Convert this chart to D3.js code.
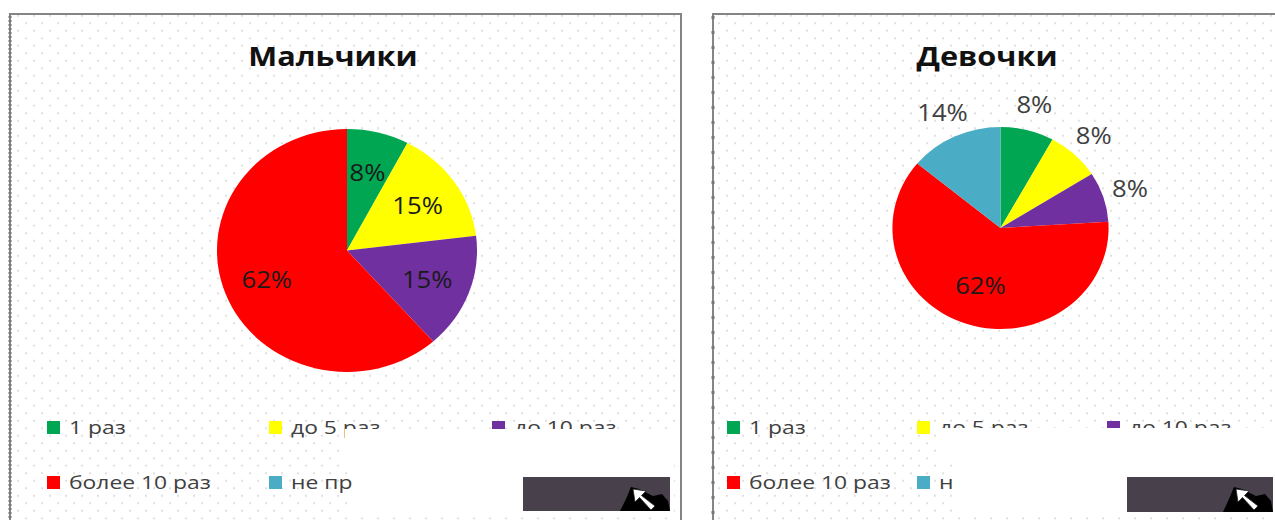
<!DOCTYPE html>
<html>
<head>
<meta charset="utf-8">
<script src="https://cdn.jsdelivr.net/npm/d3@7"></script>
<style>
  body { margin: 0; background: #fff; }
  svg { display: block; }
  text { font-family: "Open Sans", sans-serif; }
</style>
</head>
<body>
<div id="chart"></div>
<script>
// two pies: boys / girls
const width = 1275, height = 520;

const categories = ["1 раз", "до 5 раз", "до 10 раз", "более 10 раз", "не пробовали"];
const colors = ["#00a651", "#ffff00", "#7030a0", "#ff0000", "#4bacc6"];
const titles = ["Мальчики", "Девочки"];
const boysValues = [1, 2, 2, 8, 0];
const girlsValues = [8, 8, 8, 62, 14];

const svg = d3.select("#chart")
    .append("svg")
    .attr("width", width)
    .attr("height", height);

const defs = svg.append("defs");

// layout of each panel (not data)
const panels = [
  { title: titles[0], values: boysValues, x: 10, w: 671, cx: 347, cy: 250.5, r: 121.5, titleX: 333,
    dotX: 6, legendX: [47, 269, 492], fit: "inside",
    cut: [[345, 429, 330, 31], [352, 460, 322, 52]], button: [523, 477, 147, 34] },
  { title: titles[1], values: girlsValues, x: 713, w: 620, cx: 1000.5, cy: 228, r: 101, titleX: 987,
    dotX: 731, legendX: [727, 917, 1107], fit: "bestfit",
    cut: [[936, 428, 340, 32], [952, 460, 330, 52]], button: [1127, 477, 146, 35] }
];

const sx = 1.07;   // pies are a bit stretched sideways
const tx = 1.18;   // titles and legend even more
const legendRows = [421, 476];

panels.forEach((p, k) => {
  // dotted background
  const pat = defs.append("pattern")
      .attr("id", "dots" + k)
      .attr("patternUnits", "userSpaceOnUse")
      .attr("x", p.dotX).attr("y", 19.5)
      .attr("width", 16).attr("height", 15);
  pat.append("circle").attr("cx", 4).attr("cy", 3.75).attr("r", 0.8).attr("fill", "#b8b8b8");
  pat.append("circle").attr("cx", 12).attr("cy", 11.25).attr("r", 0.8).attr("fill", "#b8b8b8");

  const panel = svg.append("g");
  panel.append("rect")
      .attr("x", p.x).attr("y", 14)
      .attr("width", p.w).attr("height", 600)
      .attr("fill", `url(#dots${k})`)
      .attr("stroke", "#858585")
      .attr("stroke-width", 2);
  // handle marks on the left edge
  panel.append("line")
      .attr("x1", p.x).attr("x2", p.x)
      .attr("y1", 16).attr("y2", height)
      .attr("stroke", "#777")
      .attr("stroke-width", 3)
      .attr("stroke-dasharray", k == 0 ? "2,2" : "3,12");

  panel.append("text")
      .attr("transform", `translate(${p.titleX},66) scale(${tx},1)`)
      .attr("text-anchor", "middle")
      .attr("font-size", 26)
      .attr("font-weight", "bold")
      .attr("fill", "#111")
      .text(p.title);

  const total = d3.sum(p.values);
  const pie = d3.pie().sort(null).value(d => d);
  const arcs = pie(p.values);
  const arc = d3.arc().innerRadius(0).outerRadius(p.r);

  const g = panel.append("g")
      .attr("transform", `translate(${p.cx},${p.cy}) scale(${sx},1)`);

  g.selectAll("path")
    .data(arcs)
    .join("path")
      .attr("d", arc)
      .attr("fill", (d, i) => colors[i]);

  const inArc = d3.arc().innerRadius(p.r * 0.66).outerRadius(p.r * 0.66);
  const bigArc = d3.arc().innerRadius(p.r * 0.6).outerRadius(p.r * 0.6);
  const outArc = d3.arc().innerRadius(p.r * 1.26).outerRadius(p.r * 1.26);

  g.selectAll("text.lbl")
    .data(arcs.filter(d => d.value > 0))
    .join("text")
      .attr("class", "lbl")
      .attr("transform", d => {
        let a = inArc;
        if (p.fit == "bestfit") a = d.value / total > 0.3 ? bigArc : outArc;
        return `translate(${a.centroid(d)})`;
      })
      .attr("text-anchor", "middle")
      .attr("dy", "0.36em")
      .attr("font-size", 24)
      .attr("fill", d => (p.fit == "bestfit" && d.value / total <= 0.3) ? "#404040" : "#1a1a1a")
      .text(d => Math.round(d.value / total * 100) + "%");

  // legend
  const leg = panel.append("g");
  const item = leg.selectAll("g")
    .data(categories)
    .join("g")
      .attr("transform", (d, i) => `translate(${p.legendX[i < 3 ? i : i - 3]},${legendRows[i < 3 ? 0 : 1]})`);
  item.append("rect")
      .attr("width", 13).attr("height", 13)
      .attr("fill", (d, i) => colors[i]);
  item.append("text")
      .attr("transform", `translate(22,12.5) scale(1.27,1)`)
      .attr("font-size", 18)
      .attr("fill", "#404040")
      .text(d => d);

  // blank part of the capture
  p.cut.forEach(c => {
    panel.append("rect")
        .attr("x", c[0]).attr("y", c[1])
        .attr("width", c[2]).attr("height", c[3])
        .attr("fill", "#fff");
  });

  // dark button with a cursor
  const b = p.button;
  panel.append("rect")
      .attr("x", b[0]).attr("y", b[1])
      .attr("width", b[2]).attr("height", b[3])
      .attr("fill", "#48404a");
  const cur = panel.append("g")
      .attr("transform", `translate(${b[0] + b[2] - 37},${b[1] + 12})`);
  cur.append("path")
      .attr("d", "M-13," + (b[3] - 12) + " L-7,10 L-2,-2 L6,0 L20,7 L29,5 L35,12 L37," + (b[3] - 12) + " Z")
      .attr("fill", "#000");
  cur.append("path")
      .attr("d", "M0,0 L13,2 L8.5,6.5 L22,17 L18,21 L6.5,8.5 L2,13 Z")
      .attr("fill", "#fff")
      .attr("stroke", "#222")
      .attr("stroke-width", 0.8);
});
</script>
</body>
</html>
